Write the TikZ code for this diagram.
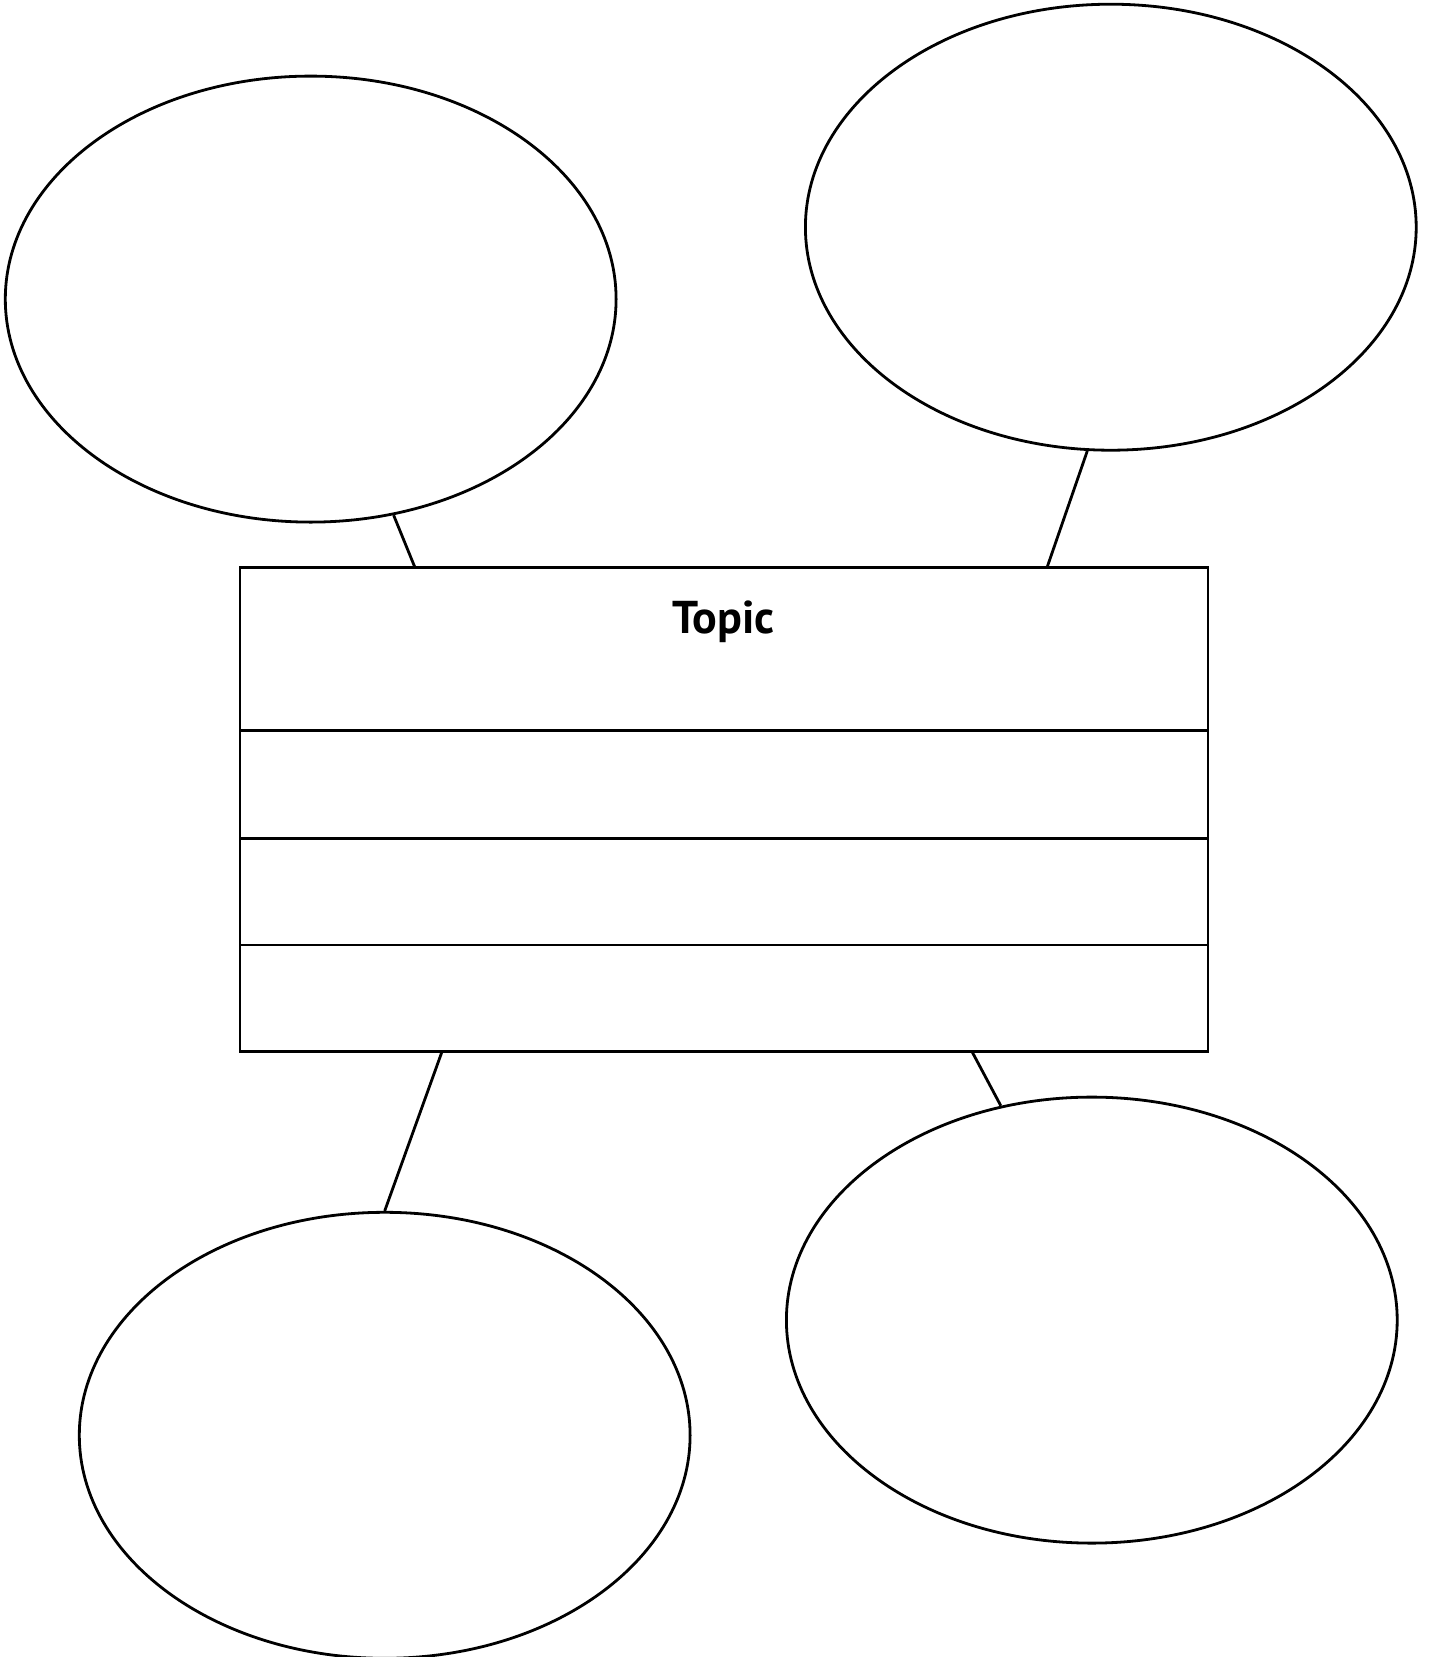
\documentclass[tikz,border=0pt]{standalone}
\usepackage{fontspec}
\setmainfont{PT Sans}
\usetikzlibrary{shapes.geometric}
\begin{document}
\begin{tikzpicture}[x=1pt,y=-1pt,line width=2.8pt,
  bubble/.style={draw,ellipse,inner sep=0pt,minimum width=610.8pt,minimum height=446pt},
  link/.style={draw,line width=2.8pt}]
\useasboundingbox (0,0) rectangle (1431,1657);
\node[bubble] (e1) at (310.7,299.1) {};
\node[bubble] (e2) at (1110.8,227.2) {};
\node[bubble] (e3) at (384.7,1435.3) {};
\node[bubble] (e4) at (1091.8,1320.1) {};
\node[draw,rectangle,inner sep=0pt,minimum width=968.1pt,minimum height=484pt] (box) at (723.95,809.6) {};
\coordinate (r1) at (239.9,730.3);
\coordinate (r2) at (239.9,838.1);
\coordinate (r3) at (239.9,944.9);
\draw (r1) -- ++(968.1,0);
\draw (r2) -- ++(968.1,0);
\draw (r3) -- ++(968.1,0);
\node[font=\bfseries\fontsize{46}{50}\selectfont,anchor=base] (topic) at (723.5,633) {Topic};
\coordinate (t1) at (415,567.6);
\coordinate (t2) at (1047,567.6);
\coordinate (b1) at (442,1051.6);
\coordinate (b2) at (972,1051.6);
\draw[link] (e1.-69.3) -- (t1);
\draw[link] (e2.-96.6) -- (t2);
\draw[link] (e3.90) -- (b1);
\draw[link] (e4.113.8) -- (b2);
\end{tikzpicture}
\end{document}
